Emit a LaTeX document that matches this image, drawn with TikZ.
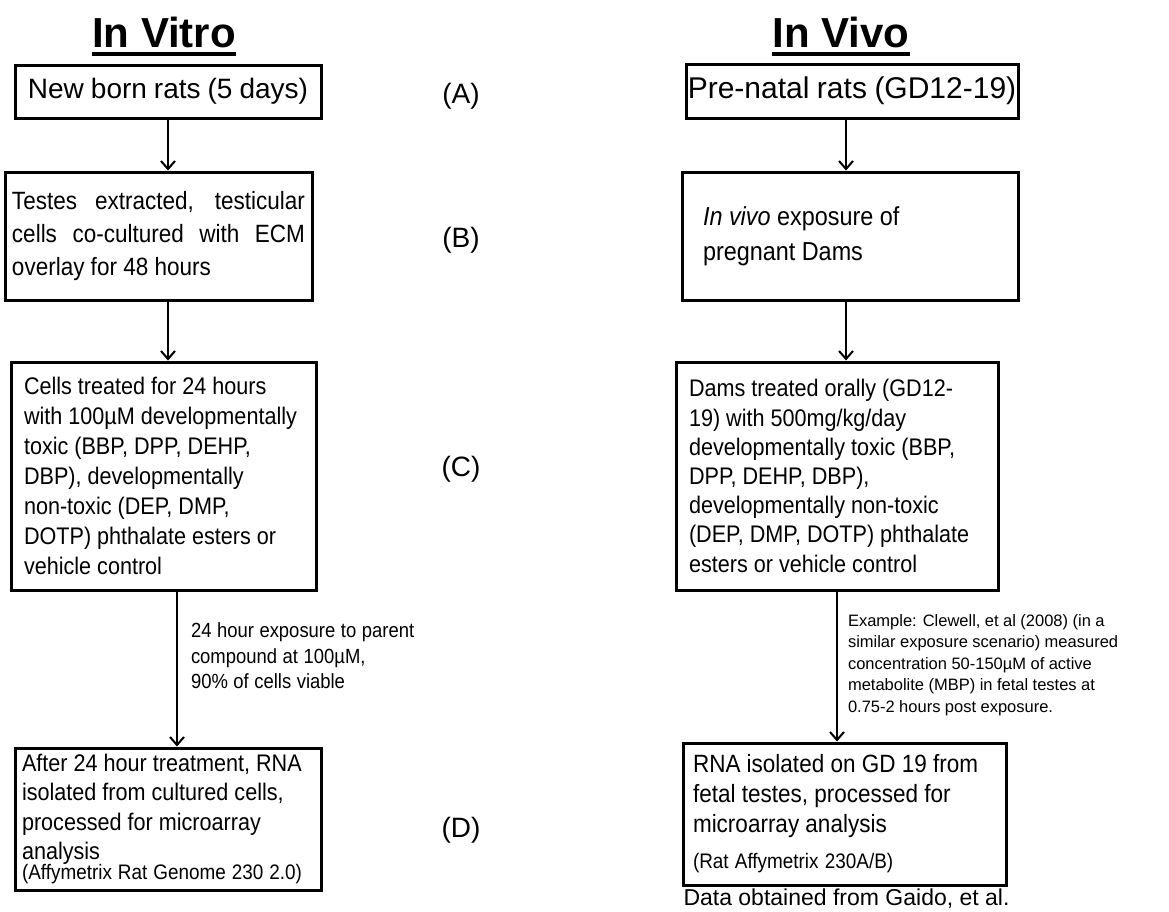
\documentclass[tikz,border=0pt]{standalone}
\usepackage{fontspec}
\setmainfont{Liberation Sans}
\newfontfamily\boxfont[FakeStretch=0.9]{Liberation Sans}
\newcommand\bxfont[2]{\boxfont\fontsize{#1}{#2}\selectfont}
\usetikzlibrary{arrows.meta,positioning}

\begin{document}
\begin{tikzpicture}[x=1pt,y=-1pt,
  box/.style={draw,line width=3pt,inner ysep=0pt,
    execute at begin node={\spaceskip=.25em plus .3em minus .05em\relax}},
  arr/.style={line width=2pt,-{Straight Barb[length=8pt,width=14pt]}},
  ttl/.style={font=\fontsize{42}{42}\selectfont\bfseries,inner sep=0pt,anchor=base},
  stage/.style={font=\fontsize{28}{28}\selectfont,inner sep=0pt,anchor=base},
  note/.style={inner sep=0pt,align=left,
    execute at begin node={\spaceskip=.27em plus .1em minus .05em\relax}}]
\useasboundingbox (0,0) rectangle (1169,911);
\node[ttl] (tvitro) at (164,47) {In Vitro};
\node[ttl] (tvivo) at (841,47) {In Vivo};
\draw[line width=4pt] ([yshift=-6.5pt]tvitro.base west)--([yshift=-6.5pt]tvitro.base east);
\draw[line width=4pt] ([yshift=-6.5pt]tvivo.base west)--([yshift=-6.5pt]tvivo.base east);
% in vitro column
\node[box,minimum width=306pt,minimum height=53pt,inner xsep=0pt,font=\fontsize{28}{28}\selectfont] (vtA) at (168,91.5) {New born rats (5 days)};
\node[box,minimum width=307pt,minimum height=128pt,text width=293pt,inner xsep=7pt,align=justify,font=\bxfont{25}{33}] (vtB) at (158.5,236) {Testes extracted, testicular\linebreak cells co-cultured with ECM\linebreak overlay for 48 hours};
\node[box,minimum width=305pt,minimum height=228pt,text width=279pt,inner xsep=13pt,align=left,font=\bxfont{24}{30}] (vtC) at (163.5,476) {Cells treated for 24 hours\\with 100µM developmentally\\toxic (BBP, DPP, DEHP,\\DBP), developmentally\\non-toxic (DEP, DMP,\\DOTP) phthalate esters or\\vehicle control};
\node[box,minimum width=306pt,minimum height=142pt,text width=292pt,inner xsep=7pt,align=left,font=\bxfont{24}{29.5}] (vtD) at (168,819) {After 24 hour treatment, RNA\\isolated from cultured cells,\\processed for microarray\\analysis\\[-9.5pt]{\bxfont{21}{21}(Affymetrix Rat Genome 230 2.0)}};
% in vivo column
\node[box,minimum width=332pt,minimum height=54pt,inner xsep=0pt,font=\fontsize{30}{30}\selectfont] (vvA) at (852,91) {Pre-natal rats (GD12-19)};
\node[box,minimum width=336pt,minimum height=128pt,text width=294pt,inner xsep=21pt,align=left,font=\bxfont{26}{35}] (vvB) at (850,236) {\textit{In vivo} exposure of\\pregnant Dams};
\node[box,minimum width=322pt,minimum height=228pt,text width=296pt,inner xsep=13pt,align=left,font=\bxfont{24}{29.2}] (vvC) at (837,476) {Dams treated orally (GD12-\\19) with 500mg/kg/day\\developmentally toxic (BBP,\\DPP, DEHP, DBP),\\developmentally non-toxic\\(DEP, DMP, DOTP) phthalate\\esters or vehicle control};
\node[box,minimum width=323pt,minimum height=142pt,text width=303pt,inner xsep=10pt,align=left,font=\bxfont{25}{30}] (vvD) at (844.5,814) {RNA isolated on GD 19 from\\fetal testes, processed for\\microarray analysis\\[6pt]{\bxfont{21}{21}(Rat Affymetrix 230A/B)}};
\node[below=2.5pt of vvD,xshift=2pt,inner sep=0pt,font=\fontsize{23}{23}\selectfont] (src) {Data obtained from Gaido, et al.};
% stage letters
\node[stage] (sA) at (461,103) {(A)};
\node[stage] (sB) at (461,247) {(B)};
\node[stage] (sC) at (461,476) {(C)};
\node[stage] (sD) at (461,837) {(D)};
% arrows
\draw[arr] (vtA.south) -- (vtA.south |- vtB.north);
\draw[arr] (vtA.south |- vtB.south) -- (vtA.south |- vtC.north);
\draw[arr] ([xshift=13.5pt]vtC.south) -- node[note,pos=.416,right=13pt,font=\bxfont{20.5}{25.5}] (expo) {24 hour exposure to parent\\compound at 100µM,\\90\% of cells viable} ([xshift=13.5pt]vtC.south |- vtD.north);
\draw[arr] ([xshift=-6pt]vvA.south) -- ([xshift=-6pt]vvA.south |- vvB.north);
\draw[arr] ([xshift=-6pt]vvA.south |- vvB.south) -- ([xshift=-6pt]vvA.south |- vvC.north);
\draw[arr] (vvC.south) -- node[note,pos=.49,right=10pt,font=\fontsize{16.5}{21.5}\selectfont] (conc) {Example: Clewell, et al (2008) (in a\\similar exposure scenario) measured\\concentration 50-150µM of active\\metabolite (MBP) in fetal testes at\\0.75-2 hours post exposure.} (vvC.south |- vvD.north);
\end{tikzpicture}
\end{document}
